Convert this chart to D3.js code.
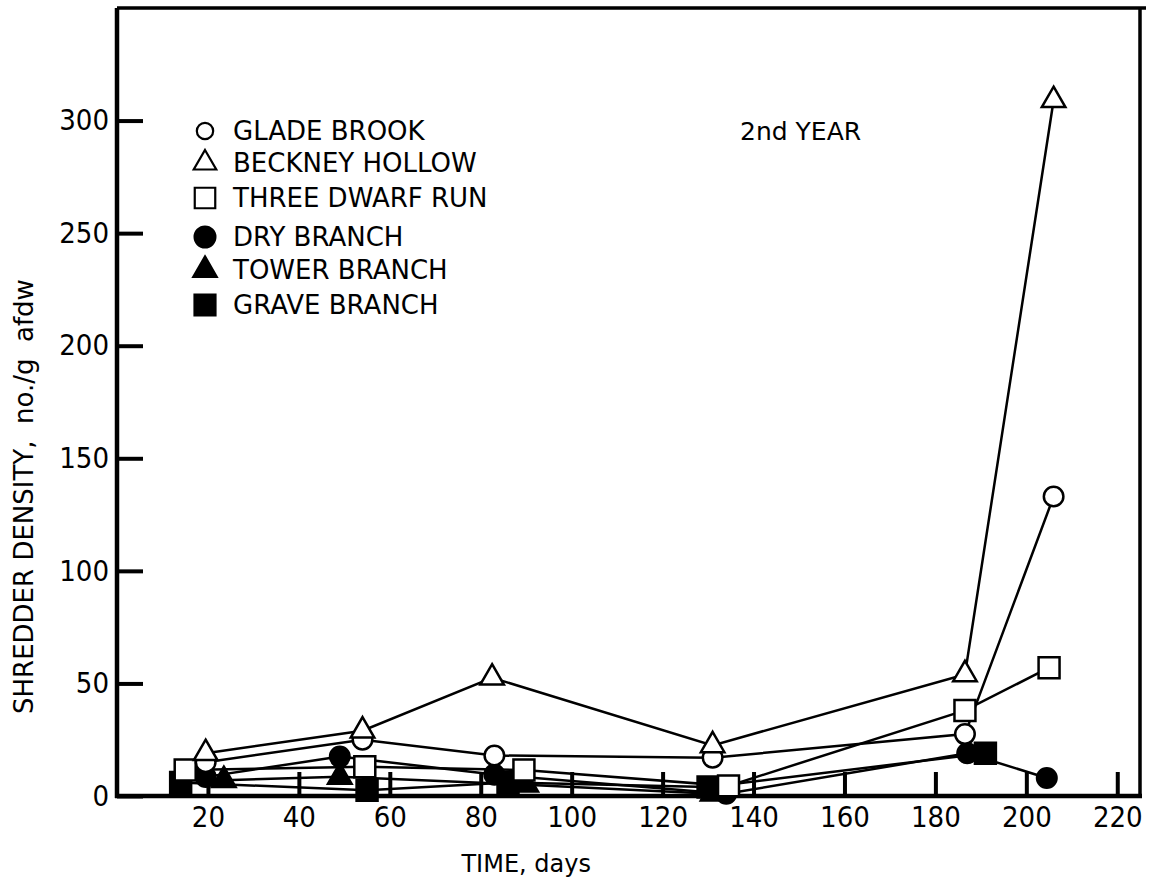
<!DOCTYPE html>
<html>
<head>
<meta charset="utf-8">
<script src="https://cdn.jsdelivr.net/npm/d3@7"></script>
<style>
  body { margin: 0; background: #fff; }
  text { font-family: "DejaVu Sans Condensed", "DejaVu Sans", sans-serif; fill: #000; }
  .wide { font-family: "DejaVu Sans", sans-serif; }
</style>
</head>
<body>
<div id="chart"></div>
<script>
// series: [day, no./g afdw]
var seriesNames = ["GLADE BROOK", "BECKNEY HOLLOW", "THREE DWARF RUN", "DRY BRANCH", "TOWER BRANCH", "GRAVE BRANCH"];
var gladeBrook = [[19.5, 15], [54, 25], [83, 18], [131, 17], [186.5, 27.5], [206, 133]];
var beckneyHollow = [[19.5, 19], [54, 29], [82.5, 52.5], [131, 22.5], [186.5, 54], [206, 309]];
var threeDwarfRun = [[15, 11.5], [54.5, 13], [89.5, 11.5], [134.5, 4.5], [186.5, 38], [205, 57]];
var dryBranch = [[19.5, 8.5], [49, 17.5], [83, 9.5], [134, 1], [187, 19], [204.5, 8]];
var towerBranch = [[23.5, 7], [49, 8.5], [90, 5], [131, 1]];
var graveBranch = [[14, 6], [55, 2.5], [86, 6], [130, 4], [191, 19]];

var xTicks = [20, 40, 60, 80, 100, 120, 140, 160, 180, 200, 220];
var yTicks = [0, 50, 100, 150, 200, 250, 300];

function init() {
    var allSeries = [gladeBrook, beckneyHollow, threeDwarfRun, dryBranch, towerBranch, graveBranch];
    var symbolTypes = [d3.symbolCircle, d3.symbolTriangle, d3.symbolSquare, d3.symbolCircle, d3.symbolTriangle, d3.symbolSquare];
    var symbolSizes = [300, 240, 440, 300, 240, 440];
    var legendSizes = [210, 220, 420, 340, 240, 440];
    var filled = [false, false, false, true, true, true];

    var W = 1169, H = 882;
    var margin = { top: 8, right: 29, bottom: 86, left: 117 };
    var w = W - margin.left - margin.right;
    var h = H - margin.top - margin.bottom;

    var svg = d3.select("#chart")
        .append("svg")
        .attr("width", W)
        .attr("height", H)
        .append("g")
        .attr("transform", "translate(" + margin.left + "," + margin.top + ")");

    var xScale = d3.scaleLinear().domain([0, 225]).range([0, w]);
    var yScale = d3.scaleLinear().domain([0, 350]).range([h, 0]);

    // frame top + right
    svg.append("path")
        .attr("d", "M0,0H" + (w + 6) + "M" + w + ",0V" + h)
        .attr("fill", "none")
        .attr("stroke", "#000")
        .attr("stroke-width", 3.5);

    var xAxis = d3.axisBottom(xScale)
        .tickValues(xTicks)
        .tickSizeInner(-24)
        .tickSizeOuter(0)
        .tickPadding(10);

    var yAxis = d3.axisLeft(yScale)
        .tickValues(yTicks)
        .tickSizeInner(-26)
        .tickSizeOuter(0)
        .tickPadding(8);

    var gx = svg.append("g")
        .attr("transform", "translate(0," + h + ")")
        .call(xAxis);
    var gy = svg.append("g").call(yAxis);

    [gx, gy].forEach(function (g) {
        g.select(".domain").attr("stroke-width", 4.5).attr("d", function () {
            return g === gx ? "M-2,0H" + (w + 2) : "M0,0V" + (h + 2);
        });
        g.selectAll(".tick line").attr("stroke-width", 4);
        g.selectAll(".tick text").attr("font-size", 29).attr("fill", "#000");
    });

    // lines
    var line = d3.line()
        .x(function (d) { return xScale(d[0]); })
        .y(function (d) { return yScale(d[1]); });

    svg.selectAll(".series")
        .data(allSeries)
        .enter()
        .append("path")
        .attr("class", "series")
        .attr("d", line)
        .attr("fill", "none")
        .attr("stroke", "#000")
        .attr("stroke-width", 2.5);

    // markers, filled ones first then open ones on top
    var order = [5, 4, 3, 2, 0, 1];
    order.forEach(function (i) {
        svg.selectAll(".m" + i)
            .data(allSeries[i])
            .enter()
            .append("path")
            .attr("class", "m" + i)
            .attr("transform", function (d) {
                return "translate(" + xScale(d[0]) + "," + yScale(d[1]) + ")";
            })
            .attr("d", d3.symbol().type(symbolTypes[i]).size(symbolSizes[i]))
            .attr("fill", filled[i] ? "#000" : "#fff")
            .attr("stroke", "#000")
            .attr("stroke-width", 2.5);
    });

    // legend
    var legend = svg.append("g").attr("transform", "translate(88,123)");
    var rowY = [0, 32, 67, 106, 139, 174];
    seriesNames.forEach(function (name, i) {
        var row = legend.append("g").attr("transform", "translate(0," + rowY[i] + ")");
        row.append("path")
            .attr("d", d3.symbol().type(symbolTypes[i]).size(legendSizes[i]))
            .attr("fill", filled[i] ? "#000" : "#fff")
            .attr("stroke", "#000")
            .attr("stroke-width", 2.2);
        row.append("text")
            .attr("class", "wide")
            .attr("x", 28)
            .attr("dy", "0.36em")
            .attr("font-size", 26)
            .text(name);
    });

    svg.append("text")
        .attr("class", "wide")
        .attr("x", 623)
        .attr("y", 123)
        .attr("dy", "0.36em")
        .attr("font-size", 25)
        .text("2nd YEAR");

    // axis titles
    svg.append("text")
        .attr("class", "wide")
        .attr("x", xScale(90))
        .attr("y", h + 76)
        .attr("text-anchor", "middle")
        .attr("font-size", 24)
        .text("TIME, days");

    svg.append("text")
        .attr("class", "wide")
        .attr("transform", "translate(" + (-84) + "," + (yScale(133)) + ") rotate(-90)")
        .attr("text-anchor", "middle")
        .attr("font-size", 26)
        .style("white-space", "pre")
        .text("SHREDDER DENSITY,  no./g  afdw");
}

window.onload = init;
</script>
</body>
</html>
